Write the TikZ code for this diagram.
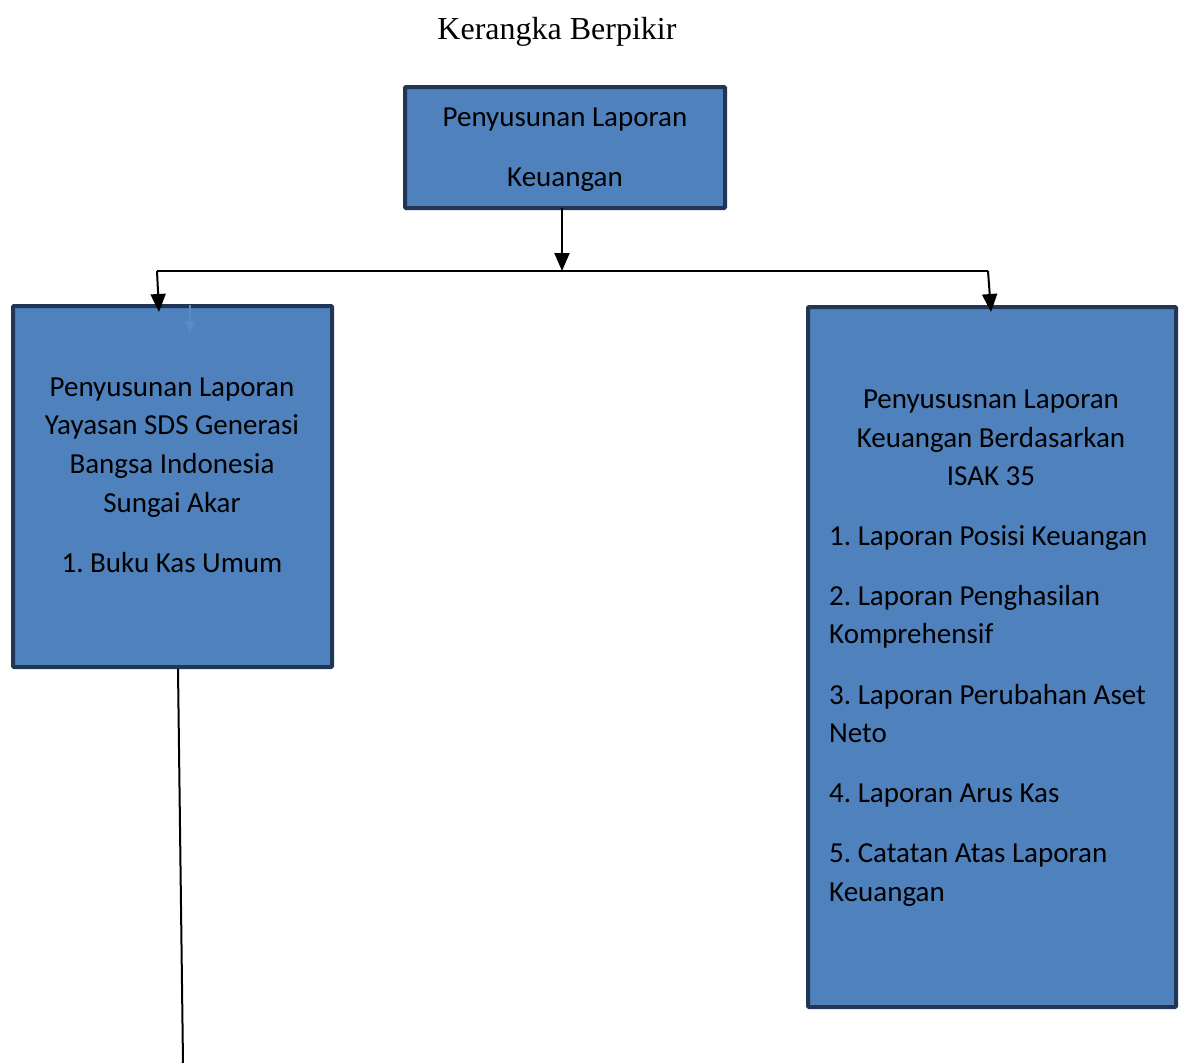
\documentclass[tikz,border=0pt]{standalone}
\usepackage{fontspec}
\setmainfont{Carlito}
\newfontfamily\titlefont{Liberation Serif}
\usetikzlibrary{arrows.meta}
\frenchspacing
\definecolor{boxfill}{RGB}{79,129,189}
\definecolor{boxedge}{RGB}{33,53,86}
\definecolor{faint}{RGB}{88,140,200}
\tikzset{
  bluebox/.style={draw=boxedge, line width=4pt, fill=boxfill, rounded corners=1pt, outer sep=0pt},
  txt/.style={font=\fontsize{29}{34}\selectfont, inner sep=0pt, anchor=mid},
  ltxt/.style={txt, anchor=mid west},
  conn/.style={draw=black, line width=2pt},
  arr/.style={conn, -{Triangle[width=15pt,length=18pt]}},
}
\begin{document}
\frenchspacing
\begin{tikzpicture}[x=1pt,y=-1pt]
\useasboundingbox (0,0) rectangle (1184,1063);
% title
\node[font=\titlefont\fontsize{32}{36}\selectfont, inner sep=0pt, anchor=mid] (title) at (557,37) {Kerangka Berpikir};
% boxes
\node[bluebox, minimum width=320pt, minimum height=121pt, anchor=north west] (top) at (405,87) {};
\node[bluebox, minimum width=319pt, minimum height=361pt, anchor=north west] (left) at (13,306) {};
\node[bluebox, minimum width=368pt, minimum height=700pt, anchor=north west] (right) at (808,307) {};
% top text
\node[txt] (t1) at (565,124) {Penyusunan Laporan};
\node[txt] (t2) at (565,184) {Keuangan};
% left text
\node[txt] (l1) at (172,394) {Penyusunan Laporan};
\node[txt] (l2) at (172,432) {Yayasan SDS Generasi};
\node[txt] (l3) at (172,471) {Bangsa Indonesia};
\node[txt] (l4) at (172,510) {Sungai Akar};
\node[txt] (l5) at (172,570) {1. Buku Kas Umum};
% right text
\node[txt] (r1) at (991,406) {Penyususnan Laporan};
\node[txt] (r2) at (991,445) {Keuangan Berdasarkan};
\node[txt] (r3) at (991,483) {ISAK 35};
\node[ltxt] (r4) at (829,543) {1. Laporan Posisi Keuangan};
\node[ltxt] (r5) at (829,603) {2. Laporan Penghasilan};
\node[ltxt] (r6) at (829,641) {Komprehensif};
\node[ltxt] (r7) at (829,702) {3. Laporan Perubahan Aset};
\node[ltxt] (r8) at (829,740) {Neto};
\node[ltxt] (r9) at (829,800) {4. Laporan Arus Kas};
\node[ltxt] (r10) at (829,860) {5. Catatan Atas Laporan};
\node[ltxt] (r11) at (829,899) {Keuangan};
% connectors
\coordinate (jm) at (562,271);
\coordinate (jl) at (157,271);
\coordinate (jr) at (988,271);
\coordinate (tl) at (159,312);
\coordinate (tr) at (991,312);
\coordinate (fa) at (190,305);
\coordinate (fb) at (190,333);
\coordinate (lend) at (183,1063);
\draw[arr] (top.south -| jm) -- (jm);
\draw[conn] (jl) -- (jr);
\draw[arr] (jl) -- (tl);
\draw[arr] (jr) -- (tr);
\draw[draw=faint, line width=2pt, -{Triangle[width=10pt,length=12pt]}] (fa) -- (fb);
\draw[conn] (178,669) coordinate (lstart) -- (lend);
\end{tikzpicture}
\end{document}
